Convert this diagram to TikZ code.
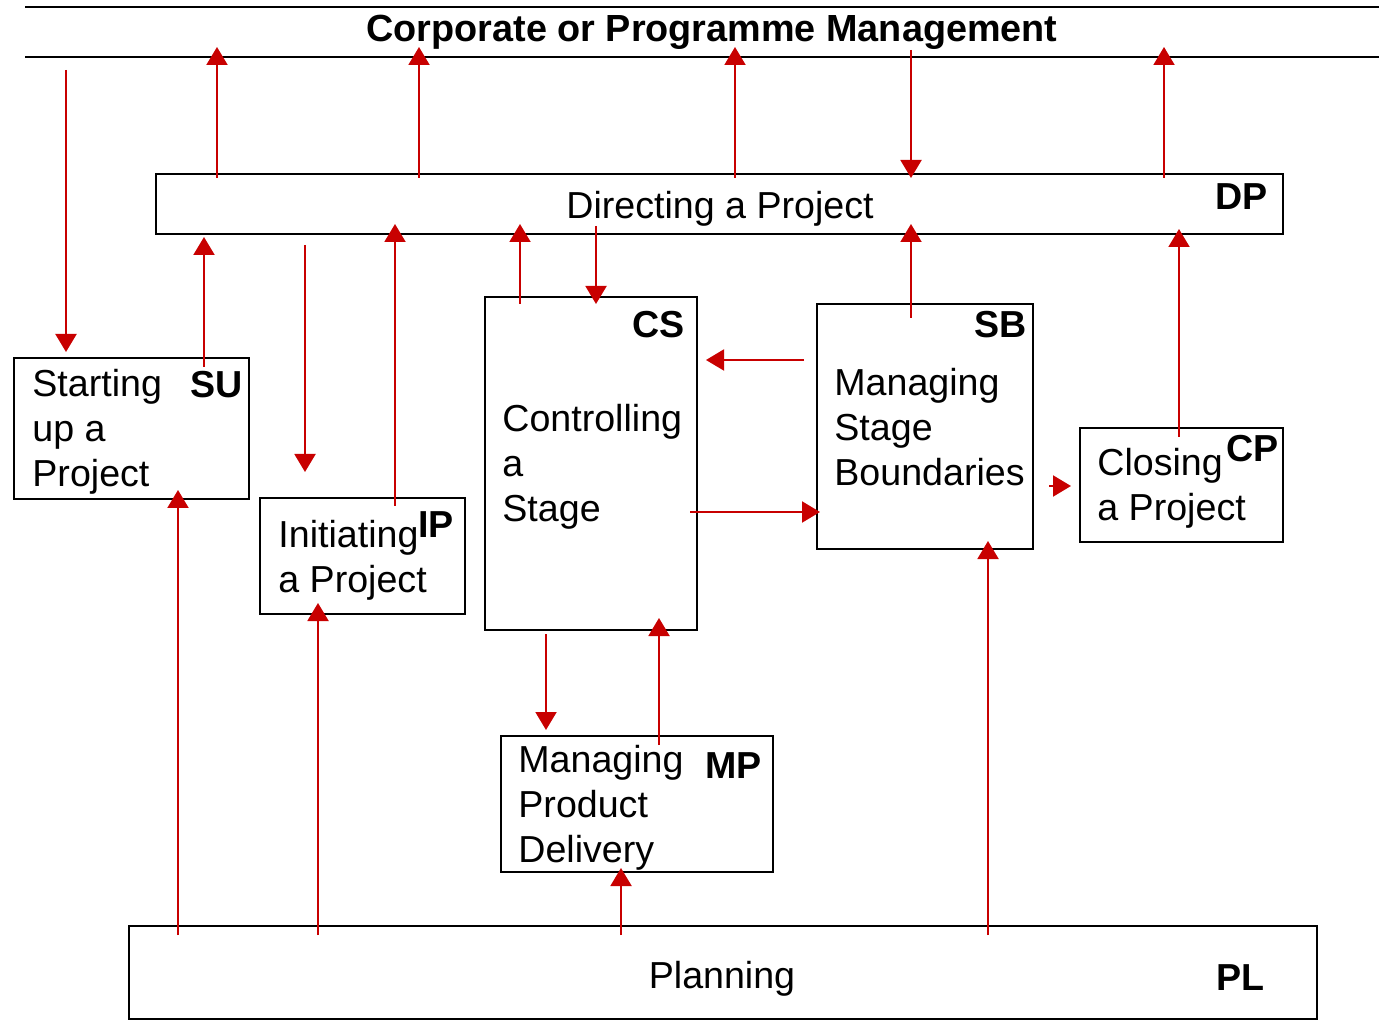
\documentclass[tikz,border=0pt]{standalone}
\usepackage{fontspec}
\setmainfont{Liberation Sans}
\usetikzlibrary{calc,arrows.meta}
\definecolor{arrred}{RGB}{200,0,0}
\tikzset{
  boxnode/.style={draw=black, line width=1pt, rectangle, inner sep=0pt, outer sep=0pt, anchor=north west},
  txt/.style={inner sep=0pt, align=left, anchor=base west, font=\fontsize{18.8}{22.5}\selectfont},
  lbl/.style={inner sep=0pt, anchor=base west, font=\fontsize{18.8}{22.5}\selectfont\bfseries},
  arr/.style={draw=arrred, line width=1pt, -{Triangle[length=9pt,width=10.5pt]}, arrred}
}
\begin{document}
\begin{tikzpicture}[x=0.5pt,y=-0.5pt]
\useasboundingbox[fill=white] (0,0) rectangle (1379,1020);
% title band
\node[inner sep=0pt, outer sep=0pt, minimum width=677pt, minimum height=25pt, anchor=north west] (cpm) at (25,7) {};
\draw[line width=1pt] (cpm.north west) -- (cpm.north east);
\draw[line width=1pt] (cpm.south west) -- (cpm.south east);
\node[inner sep=0pt, anchor=base, font=\fontsize{18.9}{22.5}\selectfont\bfseries] (title) at (712,42) {Corporate or Programme Management};
% boxes
\node[boxnode, minimum width=563.5pt, minimum height=30pt] (dp) at (156,174) {};
\node[boxnode, minimum width=117.5pt, minimum height=70.5pt] (su) at (14,358) {};
\node[boxnode, minimum width=102.5pt, minimum height=58pt] (ip) at (260,498) {};
\node[boxnode, minimum width=106pt, minimum height=166.5pt] (cs) at (485,297) {};
\node[boxnode, minimum width=108pt, minimum height=122.5pt] (sb) at (817,304) {};
\node[boxnode, minimum width=101.5pt, minimum height=57pt] (cp) at (1080,428) {};
\node[boxnode, minimum width=136pt, minimum height=68pt] (mp) at (501,736) {};
\node[boxnode, minimum width=594pt, minimum height=46.5pt] (pl) at (129,926) {};
% texts (anchor base west = baseline of the last line)
\node[txt] (dpt) at (566,219) {Directing a Project};
\node[lbl] (dpl) at (1215,210) {DP};
\node[txt] (sut) at (32,487) {Starting\\up a\\Project};
\node[lbl] (sul) at (190,398) {SU};
\node[txt] (ipt) at (278,592) {Initiating\\a Project};
\node[lbl] (ipl) at (418,538) {IP};
\node[txt] (cst) at (502,522) {Controlling\\a\\Stage};
\node[lbl] (csl) at (632,338) {CS};
\node[txt] (sbt) at (834,486) {Managing\\Stage\\Boundaries};
\node[lbl] (sbl) at (974,338) {SB};
\node[txt] (cpt) at (1097,521) {Closing\\a Project};
\node[lbl] (cpl) at (1226,462) {CP};
\node[txt] (mpt) at (518,862) {Managing\\Product\\Delivery};
\node[lbl] (mpl) at (705,778) {MP};
\node[txt, anchor=base] (plt) at (722,988) {Planning};
\node[lbl] (pll) at (1216,990) {PL};
% connectors
\draw[arr] ($(cpm.south west)+(41,13)$) -- ($(su.north west)+(52,-6)$);
\draw[arr] ($(dp.north west)+(61,4)$) -- ($(cpm.south west)+(192,-10)$);
\draw[arr] ($(dp.north west)+(263,4)$) -- ($(cpm.south west)+(394,-10)$);
\draw[arr] ($(dp.north west)+(579,4)$) -- ($(cpm.south west)+(710,-10)$);
\draw[arr] ($(cpm.south west)+(886,-7)$) -- ($(dp.north west)+(755,4)$);
\draw[arr] ($(dp.north west)+(1008,4)$) -- ($(cpm.south west)+(1139,-10)$);
\draw[arr] ($(su.north west)+(190,9)$) -- ($(dp.south west)+(48,3)$);
\draw[arr] ($(dp.south west)+(149,11)$) -- ($(ip.north west)+(45,-26)$);
\draw[arr] ($(ip.north west)+(135,8)$) -- ($(dp.south west)+(239,-10)$);
\draw[arr] ($(cs.north west)+(35,7)$) -- ($(dp.south west)+(364,-10)$);
\draw[arr] ($(dp.south west)+(440,-8)$) -- ($(cs.north west)+(111,7)$);
\draw[arr] ($(sb.north west)+(94,14)$) -- ($(dp.south west)+(755,-10)$);
\draw[arr] ($(cp.north west)+(99,9)$) -- ($(dp.south west)+(1023,-5)$);
\draw[arr] ($(sb.north west)+(-13,56)$) -- ($(cs.north east)+(9,63)$);
\draw[arr] ($(cs.north east)+(-7,215)$) -- ($(sb.north west)+(3,208)$);
\draw[arr] ($(sb.north east)+(16,182)$) -- ($(cp.north west)+(-9,58)$);
\draw[arr] ($(pl.north west)+(49,9)$) -- ($(su.south west)+(164,-9)$);
\draw[arr] ($(pl.north west)+(189,9)$) -- ($(ip.south west)+(58,-11)$);
\draw[arr] ($(cs.south west)+(61,4)$) -- ($(mp.north west)+(45,-6)$);
\draw[arr] ($(mp.north west)+(158,9)$) -- ($(cs.south west)+(174,-12)$);
\draw[arr] ($(pl.north west)+(492,9)$) -- ($(mp.south west)+(120,-4)$);
\draw[arr] ($(pl.north west)+(859,9)$) -- ($(sb.south west)+(171,-8)$);
\end{tikzpicture}
\end{document}
